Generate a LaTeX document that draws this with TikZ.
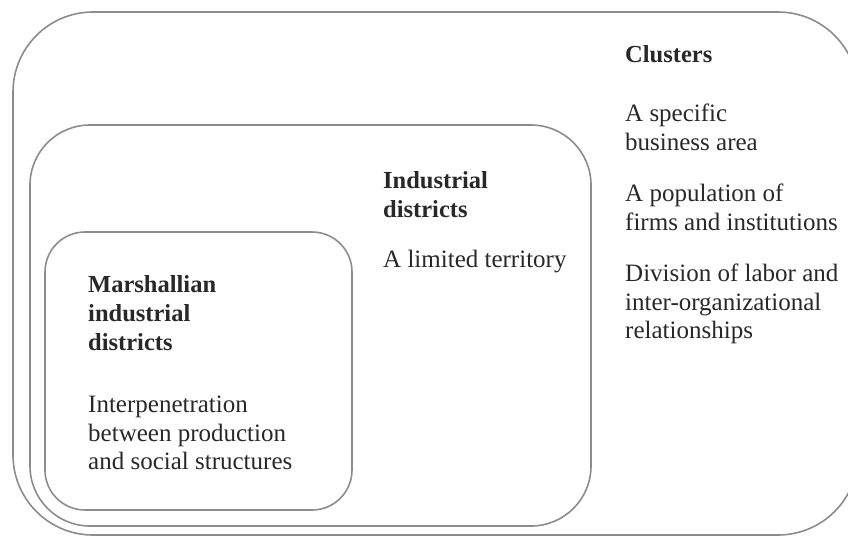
\documentclass[tikz,border=0pt]{standalone}
\usepackage{fontspec}
\setmainfont{Liberation Serif}
\usetikzlibrary{positioning}
\definecolor{framegray}{RGB}{140,140,140}
\definecolor{textgray}{RGB}{40,40,40}

\begin{document}
\begin{tikzpicture}[x=1pt, y=-1pt,
        frame/.style={draw=framegray, line width=1.6pt, rounded corners=#1},
        label/.style={anchor=north west, inner sep=0pt, align=left, text=textgray,
            font=\fontsize{25}{28.5}\selectfont},
        heading/.style={label, font=\fontsize{24.5}{29}\selectfont\bfseries}]
    \useasboundingbox (0, 0) rectangle (848, 536);
    % nested areas
    \draw[frame=80pt] (13, 12) rectangle (858, 535);
    \draw[frame=60pt] (30, 125) rectangle (591, 526);
    \draw[frame=40pt] (45, 232) rectangle (352, 510);
    % clusters
    \path (625, 45) node[heading](Clusters){Clusters};
    \path (625, 104) node[label](Area){A specific \\ business area};
    \path (625, 184) node[label](Population){A population of \\ firms and institutions};
    \path (625, 264) node[label](Division){Division of labor and \\ inter-organizational \\ relationships};
    % industrial districts
    \path (383, 171) node[heading](Industrial){Industrial \\ districts};
    \path (383, 250) node[label](Territory){A limited territory};
    % marshallian districts
    \path (88, 275) node[heading](Marshallian){Marshallian \\ industrial \\ districts};
    \path (88, 396) node[label](Interpenetration){Interpenetration \\ between production \\ and social structures};
\end{tikzpicture}
\end{document}
